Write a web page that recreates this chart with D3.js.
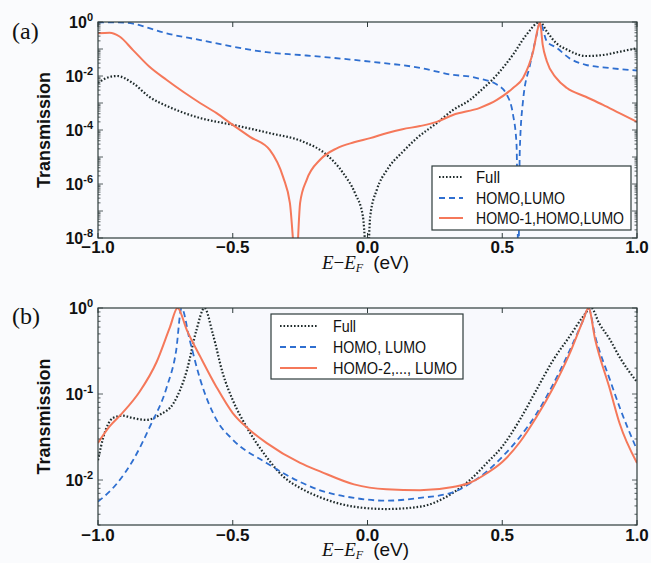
<!DOCTYPE html>
<html>
<head>
<meta charset="utf-8">
<script src="https://cdn.jsdelivr.net/npm/d3@7"></script>
<style>
  html, body { margin: 0; padding: 0; background: #fafbfd; }
  svg { display: block; }
</style>
</head>
<body>
<svg id="chart" width="651" height="563"></svg>
<script>
// ---------------- DATA ----------------
// Panel (a)
const energyA_full = [-1.0,-0.97,-0.93,-0.87,-0.81,-0.745,-0.684,-0.62,-0.5,-0.362,-0.239,-0.15,-0.09,-0.046,-0.017,0.0,0.01,0.035,0.072,0.132,0.183,0.257,0.317,0.38,0.417,0.48,0.54,0.59,0.64,0.665,0.70,0.74,0.81,0.874,0.935,1.0];
const transA_full  = [5.5e-3,8.3e-3,1.0e-2,5.4e-3,1.7e-3,7.8e-4,4.4e-4,2.75e-4,1.55e-4,7.6e-5,3.7e-5,1.17e-5,2.5e-6,4.5e-7,6.3e-8,1e-9,6.3e-8,6.3e-7,3.3e-6,1.6e-5,5.0e-5,1.8e-4,5.5e-4,1.3e-3,2.7e-3,1.1e-2,6.2e-2,0.34,1.0,0.45,0.166,0.095,0.055,0.060,0.079,0.107];

const energyA_hl = [-1.0,-0.93,-0.87,-0.81,-0.745,-0.62,-0.5,-0.375,-0.25,-0.176,0.01,0.195,0.317,0.38,0.417,0.48,0.517,0.54,0.553,0.56,0.565,0.577,0.603,0.628,0.64,0.665,0.702,0.75,0.81,0.874,0.935,1.0];
const transA_hl  = [0.955,0.977,0.87,0.59,0.38,0.214,0.123,0.076,0.060,0.052,0.034,0.020,0.011,9.5e-3,7.9e-3,4.8e-3,2.0e-3,3.7e-4,2.9e-5,1e-9,1.66e-5,1.17e-3,0.026,0.34,1.0,0.195,0.11,0.045,0.026,0.021,0.018,0.016];

const energyA_h1 = [-1.0,-0.957,-0.92,-0.87,-0.81,-0.745,-0.684,-0.62,-0.56,-0.5,-0.436,-0.362,-0.313,-0.288,-0.265,-0.25,-0.226,-0.176,-0.114,-0.05,0.01,0.07,0.13,0.195,0.257,0.317,0.417,0.48,0.54,0.577,0.615,0.633,0.64,0.65,0.665,0.70,0.74,0.81,0.874,0.935,1.0];
const transA_h1  = [0.38,0.40,0.29,0.091,0.0224,7.1e-3,2.6e-3,9.8e-4,4.2e-4,1.55e-4,5.6e-5,1.8e-5,1.8e-6,2.0e-7,1e-9,2.0e-7,1.4e-6,7.9e-6,2.1e-5,3.5e-5,5.0e-5,7.6e-5,1.07e-4,1.4e-4,2.0e-4,3.6e-4,6.6e-4,1.3e-3,3.6e-3,8.5e-3,0.085,0.63,1.0,0.145,0.036,8.5e-3,3.6e-3,1.7e-3,8.5e-4,4.2e-4,2.0e-4];

// Panel (b)
const energyB_full = [-1.0,-0.98,-0.945,-0.91,-0.87,-0.82,-0.77,-0.72,-0.67,-0.635,-0.605,-0.574,-0.537,-0.5,-0.45,-0.375,-0.313,-0.25,-0.176,-0.05,0.07,0.195,0.317,0.38,0.443,0.5,0.565,0.627,0.69,0.75,0.8,0.83,0.86,0.9,0.935,1.0];
const transB_full  = [0.017,0.0316,0.0525,0.056,0.0525,0.050,0.0575,0.078,0.19,0.55,1.0,0.50,0.174,0.085,0.042,0.0186,0.011,8.1e-3,6.3e-3,4.9e-3,4.6e-3,4.9e-3,7.1e-3,0.010,0.0158,0.0245,0.050,0.112,0.251,0.468,0.794,1.0,0.66,0.427,0.27,0.138];

const energyB_hl = [-1.0,-0.93,-0.87,-0.807,-0.745,-0.71,-0.69,-0.66,-0.62,-0.56,-0.5,-0.375,-0.25,-0.176,-0.05,0.07,0.195,0.317,0.38,0.443,0.5,0.565,0.627,0.69,0.75,0.8,0.82,0.845,0.9,0.935,1.0];
const transB_hl  = [5.6e-3,9.1e-3,0.017,0.042,0.12,0.32,1.0,0.427,0.145,0.050,0.0295,0.0158,9.5e-3,7.6e-3,6.2e-3,5.75e-3,6.2e-3,7.2e-3,9.1e-3,0.0126,0.0186,0.0316,0.059,0.132,0.32,0.72,1.0,0.468,0.145,0.071,0.0224];

const energyB_h2 = [-1.0,-0.957,-0.91,-0.845,-0.783,-0.733,-0.705,-0.67,-0.62,-0.56,-0.5,-0.436,-0.375,-0.25,-0.176,-0.05,0.07,0.195,0.317,0.38,0.443,0.5,0.565,0.627,0.69,0.75,0.8,0.82,0.845,0.9,0.935,1.0];
const transB_h2  = [0.027,0.042,0.060,0.107,0.234,0.60,1.0,0.55,0.27,0.12,0.060,0.038,0.027,0.0158,0.0126,8.9e-3,7.8e-3,7.6e-3,8.3e-3,9.3e-3,0.012,0.0162,0.0275,0.054,0.12,0.295,0.72,1.0,0.427,0.112,0.046,0.0158];

const legendA = ["Full", "HOMO,LUMO", "HOMO-1,HOMO,LUMO"];
const legendB = ["Full", "HOMO, LUMO", "HOMO-2,..., LUMO"];
const xTicks = [-1.0, -0.5, 0.0, 0.5, 1.0];
const yTicksA = [1, 1e-2, 1e-4, 1e-6, 1e-8];
const yTicksB = [1, 1e-1, 1e-2];
const panelLabels = ["(a)", "(b)"];
const yTitle = "Transmission";

// ---------------- STYLES ----------------
const styles = {
  full: { stroke: "#1f2b2b", dash: "1.6,1.9", width: 2.2 },
  hl:   { stroke: "#2f6fd0", dash: "6,4", width: 1.8 },
  hx:   { stroke: "#f5785a", dash: null, width: 2.0 }
};
const frameColor = "#2e3b3b";
const sansFont = "'Liberation Sans', Arial, sans-serif";
const serifFont = "'Liberation Serif', 'Times New Roman', serif";

const svg = d3.select("#chart");

function fmtX(v) {
  const s = d3.format(".1f")(Math.abs(v));
  return (v < 0 ? "\u2212" : "") + s;
}

function drawPanel(cfg) {
  const x = d3.scaleLinear().domain([-1, 1]).range([cfg.left, cfg.right]);
  const y = d3.scaleLog().domain(cfg.ydomain).range([cfg.bottom, cfg.top]);
  const g = svg.append("g");

  g.append("rect").attr("x", cfg.left).attr("y", cfg.top)
    .attr("width", cfg.right - cfg.left).attr("height", cfg.bottom - cfg.top)
    .attr("fill", "#f8f9fd");

  const clipId = "clip-" + cfg.id;
  svg.append("defs").append("clipPath").attr("id", clipId)
    .append("rect").attr("x", cfg.left).attr("y", cfg.top)
    .attr("width", cfg.right - cfg.left).attr("height", cfg.bottom - cfg.top);

  const line = d3.line()
    .x(d => x(d[0]))
    .y(d => y(Math.max(d[1], 1e-12)))
    .curve(d3.curveMonotoneX);
  const lg = g.append("g").attr("clip-path", `url(#${clipId})`);
  cfg.series.forEach(s => {
    const pts = s.e.map((e, i) => [e, s.t[i]]);
    const st = styles[s.style];
    lg.append("path").datum(pts)
      .attr("d", line)
      .attr("fill", "none")
      .attr("stroke", st.stroke)
      .attr("stroke-width", st.width)
      .attr("stroke-dasharray", st.dash)
      .attr("stroke-linejoin", "round");
  });

  const ax = g.append("g");
  const majorLen = 5, minorLen = 2.5;
  xTicks.forEach(v => {
    ax.append("line").attr("x1", x(v)).attr("x2", x(v))
      .attr("y1", cfg.bottom).attr("y2", cfg.bottom - majorLen)
      .attr("stroke", frameColor).attr("stroke-width", 1);
    ax.append("line").attr("x1", x(v)).attr("x2", x(v))
      .attr("y1", cfg.top).attr("y2", cfg.top + majorLen)
      .attr("stroke", frameColor).attr("stroke-width", 1);
  });
  const [lo, hi] = cfg.ydomain;
  const kMin = Math.floor(Math.log10(lo)), kMax = Math.ceil(Math.log10(hi));
  for (let k = kMin; k <= kMax; k++) {
    for (let m = 1; m <= 9; m++) {
      const v = m * Math.pow(10, k);
      if (v < lo * 0.999 || v > hi * 1.001) continue;
      const len = m === 1 ? majorLen : minorLen;
      [cfg.left, cfg.right].forEach((xx, j) => {
        const dir = j === 0 ? 1 : -1;
        ax.append("line").attr("x1", xx).attr("x2", xx + dir * len)
          .attr("y1", y(v)).attr("y2", y(v))
          .attr("stroke", frameColor).attr("stroke-width", 0.8);
      });
    }
  }
  g.append("rect").attr("x", cfg.left).attr("y", cfg.top)
    .attr("width", cfg.right - cfg.left).attr("height", cfg.bottom - cfg.top)
    .attr("fill", "none").attr("stroke", frameColor).attr("stroke-width", 1.2);

  xTicks.forEach(v => {
    g.append("text").attr("x", x(v)).attr("y", cfg.xTickBase)
      .attr("text-anchor", "middle")
      .attr("font-family", sansFont).attr("font-weight", "bold")
      .attr("font-size", 17).attr("fill", "#111")
      .text(fmtX(v));
  });
  cfg.yTicks.forEach(v => {
    const e = Math.round(Math.log10(v));
    const t = g.append("text").attr("x", cfg.left - 5).attr("y", y(v) + 6)
      .attr("text-anchor", "end")
      .attr("font-family", sansFont).attr("font-weight", "bold")
      .attr("font-size", 16).attr("fill", "#111");
    t.append("tspan").text("10");
    t.append("tspan").attr("dy", -7).attr("font-size", 11).text(String(e));
  });

  g.append("text")
    .attr("transform", `translate(${cfg.yTitleX},${(cfg.top + cfg.bottom) / 2}) rotate(-90)`)
    .attr("text-anchor", "middle")
    .attr("font-family", sansFont).attr("font-weight", "bold")
    .attr("font-size", 18).attr("fill", "#111")
    .text(yTitle);

  const xt = g.append("text").attr("x", (cfg.left + cfg.right) / 2 - 2).attr("y", cfg.xTitleBase)
    .attr("text-anchor", "middle").attr("fill", "#111").attr("font-size", 19);
  xt.append("tspan").attr("font-family", serifFont).attr("font-style", "italic").text("E");
  xt.append("tspan").attr("font-family", serifFont).text("\u2212");
  xt.append("tspan").attr("font-family", serifFont).attr("font-style", "italic").text("E");
  xt.append("tspan").attr("font-family", serifFont).attr("font-style", "italic")
    .attr("font-size", 12).attr("dy", 3).text("F");
  xt.append("tspan").attr("font-family", sansFont).attr("dy", -3).attr("dx", 10).text("(eV)");

  g.append("text").attr("x", 12).attr("y", cfg.panelLabelBase)
    .attr("font-family", serifFont).attr("font-size", 24).attr("fill", "#111")
    .text(cfg.panelLabel);

  const L = cfg.legend;
  g.append("rect").attr("x", L.x).attr("y", L.y).attr("width", L.w).attr("height", L.h)
    .attr("fill", "#ffffff").attr("stroke", frameColor).attr("stroke-width", 1.2);
  cfg.series.forEach((s, i) => {
    const st = styles[s.style];
    const yy = L.rowY[i];
    g.append("line").attr("x1", L.lineX1).attr("x2", L.lineX2)
      .attr("y1", yy).attr("y2", yy)
      .attr("stroke", st.stroke).attr("stroke-width", st.width)
      .attr("stroke-dasharray", st.dash);
    g.append("text").attr("x", L.textX).attr("y", yy + 6)
      .attr("font-family", sansFont).attr("font-size", 16).attr("fill", "#111")
      .attr("textLength", L.textW[i]).attr("lengthAdjust", "spacingAndGlyphs")
      .text(L.labels[i]);
  });
}

drawPanel({
  id: "a", left: 98, right: 637, top: 22, bottom: 238,
  ydomain: [1e-8, 1], yTicks: yTicksA,
  xTickBase: 253, xTitleBase: 269, yTitleX: 50, panelLabelBase: 39, panelLabel: panelLabels[0],
  series: [
    { e: energyA_full, t: transA_full, style: "full" },
    { e: energyA_hl, t: transA_hl, style: "hl" },
    { e: energyA_h1, t: transA_h1, style: "hx" }
  ],
  legend: { x: 432, y: 166, w: 199, h: 64, rowY: [177, 198, 218], lineX1: 439, lineX2: 463, textX: 476,
            labels: legendA, textW: [24, 89, 148] }
});

drawPanel({
  id: "b", left: 98, right: 637, top: 308, bottom: 525,
  ydomain: [0.003, 1], yTicks: yTicksB,
  xTickBase: 541, xTitleBase: 556, yTitleX: 50, panelLabelBase: 324, panelLabel: panelLabels[1],
  series: [
    { e: energyB_full, t: transB_full, style: "full" },
    { e: energyB_hl, t: transB_hl, style: "hl" },
    { e: energyB_h2, t: transB_h2, style: "hx" }
  ],
  legend: { x: 271, y: 314, w: 192, h: 65, rowY: [326, 347, 368], lineX1: 280, lineX2: 317, textX: 333,
            labels: legendB, textW: [23, 93, 124] }
});
</script>
</body>
</html>
